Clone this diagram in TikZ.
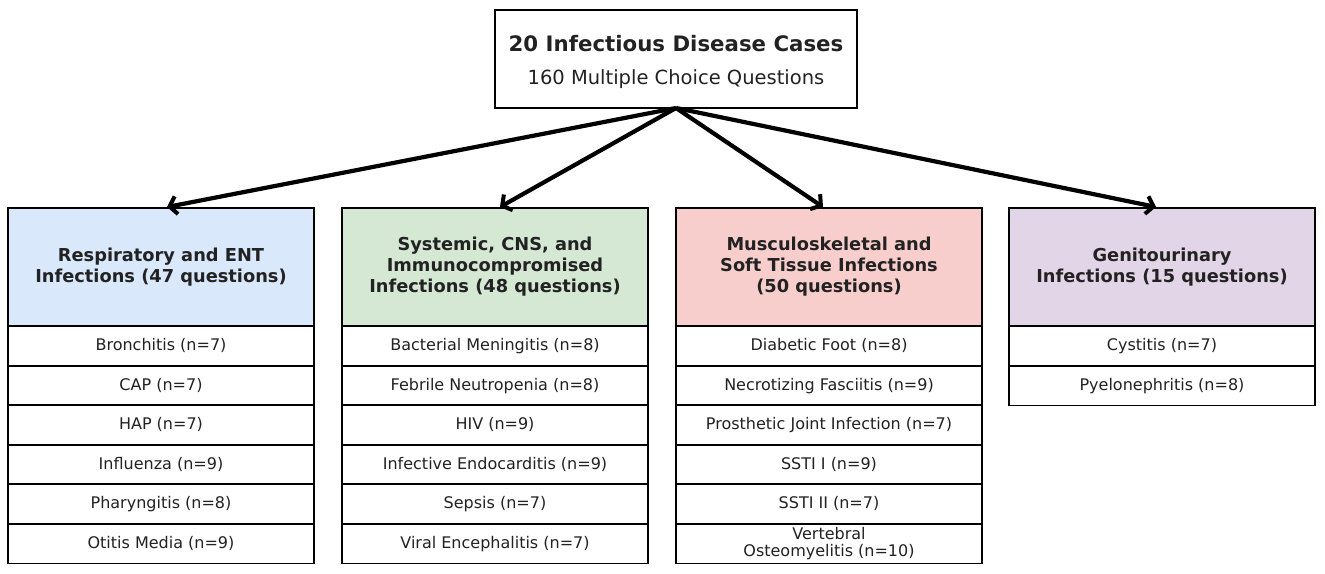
\documentclass[tikz,border=0pt]{standalone}
\usepackage{fontspec}
\setmainfont{DejaVu Sans}
\usetikzlibrary{arrows.meta}
\definecolor{txt}{HTML}{222222}
\definecolor{cblue}{HTML}{DAE8FC}
\definecolor{cgreen}{HTML}{D5E8D4}
\definecolor{cred}{HTML}{F8CECC}
\definecolor{cpurple}{HTML}{E1D5E7}
\tikzset{
  box/.style={draw=black, line width=1.8pt, rectangle, inner sep=0pt, outer sep=0pt, anchor=north, text=txt, align=center},
  hdr/.style={box, minimum width=306pt, minimum height=118pt, font=\fontsize{17.8}{21}\selectfont\bfseries},
  row/.style={box, fill=white, minimum width=306pt, minimum height=39.5pt, font=\fontsize{16}{17.5}\selectfont},
  link/.style={line width=4.2pt, -{Straight Barb[length=7pt,width=18pt,line width=4pt]}}
}
\begin{document}
\begin{tikzpicture}[x=1pt,y=-1pt]
\useasboundingbox (0,0) rectangle (1325,573);
\node[box, minimum width=362pt, minimum height=98pt, font=\fontsize{19.5}{33}\selectfont] (top) at (676,10)
  {\rule{0pt}{22.5pt}{\fontsize{21.3}{33}\selectfont\bfseries 20 Infectious Disease Cases}\\160 Multiple Choice Questions};
% column 1
\node[hdr, fill=cblue] (h1) at (161,208) {Respiratory and ENT\\Infections (47 questions)};
\node[row] (a1) at (161,326) {Bronchitis (n=7)};
\node[row] (a2) at (161,366) {CAP (n=7)};
\node[row] (a3) at (161,405) {HAP (n=7)};
\node[row] (a4) at (161,445) {Influenza (n=9)};
\node[row] (a5) at (161,484) {Pharyngitis (n=8)};
\node[row] (a6) at (161,524) {Otitis Media (n=9)};
% column 2
\node[hdr, fill=cgreen] (h2) at (495,208) {Systemic, CNS, and\\Immunocompromised\\Infections (48 questions)};
\node[row] (b1) at (495,326) {Bacterial Meningitis (n=8)};
\node[row] (b2) at (495,366) {Febrile Neutropenia (n=8)};
\node[row] (b3) at (495,405) {HIV (n=9)};
\node[row] (b4) at (495,445) {Infective Endocarditis (n=9)};
\node[row] (b5) at (495,484) {Sepsis (n=7)};
\node[row] (b6) at (495,524) {Viral Encephalitis (n=7)};
% column 3
\node[hdr, fill=cred] (h3) at (829,208) {Musculoskeletal and\\Soft Tissue Infections\\(50 questions)};
\node[row] (c1) at (829,326) {Diabetic Foot (n=8)};
\node[row] (c2) at (829,366) {Necrotizing Fasciitis (n=9)};
\node[row] (c3) at (829,405) {Prosthetic Joint Infection (n=7)};
\node[row] (c4) at (829,445) {SSTI I (n=9)};
\node[row] (c5) at (829,484) {SSTI II (n=7)};
\node[row] (c6) at (829,524) {Vertebral\\Osteomyelitis (n=10)};
% column 4
\node[hdr, fill=cpurple] (h4) at (1162,208) {Genitourinary\\Infections (15 questions)};
\node[row] (d1) at (1162,326) {Cystitis (n=7)};
\node[row] (d2) at (1162,366) {Pyelonephritis (n=8)};
% arrows
\coordinate (e1) at (167,207);
\coordinate (e2) at (500,207);
\coordinate (e3) at (823,207);
\coordinate (e4) at (1156,207);
\draw[link] (top.south) -- (e1);
\draw[link] (top.south) -- (e2);
\draw[link] (top.south) -- (e3);
\draw[link] (top.south) -- (e4);
\end{tikzpicture}
\end{document}
